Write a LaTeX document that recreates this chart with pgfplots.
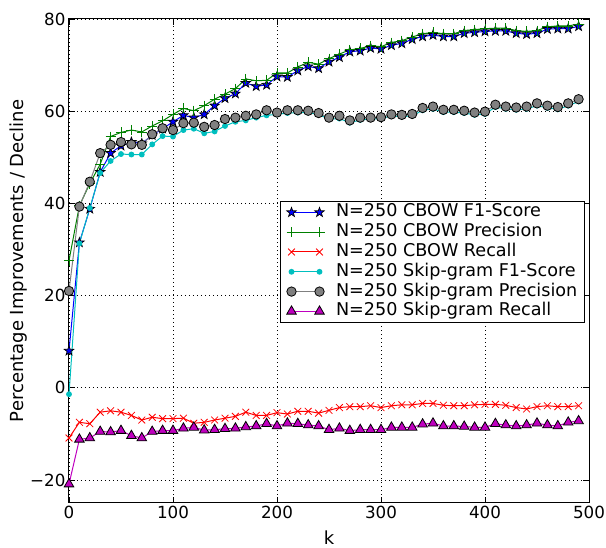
\documentclass[border=0pt]{standalone}
\usepackage{pgfplots}
\usepackage{pgfplotstable}
\pgfplotsset{compat=1.18}
\usepackage{fontspec}
\setmainfont{DejaVu Sans}
\definecolor{mplgreen}{rgb}{0,0.5,0}
\definecolor{mplcyan}{rgb}{0,0.75,0.75}
\definecolor{mplmag}{rgb}{0.75,0,0.75}
\definecolor{mplgray}{rgb}{0.5,0.5,0.5}
\pgfdeclareplotmark{fstar}{%
  \pgfpathmoveto{\pgfpointpolar{90}{\pgfplotmarksize}}%
  \pgfpathlineto{\pgfpointpolar{126}{0.4\pgfplotmarksize}}%
  \pgfpathlineto{\pgfpointpolar{162}{\pgfplotmarksize}}%
  \pgfpathlineto{\pgfpointpolar{198}{0.4\pgfplotmarksize}}%
  \pgfpathlineto{\pgfpointpolar{234}{\pgfplotmarksize}}%
  \pgfpathlineto{\pgfpointpolar{270}{0.4\pgfplotmarksize}}%
  \pgfpathlineto{\pgfpointpolar{306}{\pgfplotmarksize}}%
  \pgfpathlineto{\pgfpointpolar{342}{0.4\pgfplotmarksize}}%
  \pgfpathlineto{\pgfpointpolar{18}{\pgfplotmarksize}}%
  \pgfpathlineto{\pgfpointpolar{54}{0.4\pgfplotmarksize}}%
  \pgfpathclose\pgfusepathqfillstroke}
\pgfplotstableread{
x cbf cbp cbr sgf sgp sgr
0 8.0 27.6 -10.9 -1.4 21.0 -20.9
10 31.5 39.5 -7.5 31.3 39.3 -11.2
20 38.8 44.3 -7.8 39.0 44.7 -10.9
30 46.8 48.5 -5.3 46.6 50.9 -9.5
40 50.9 54.5 -5.0 49.2 52.7 -9.6
50 52.5 55.4 -5.3 50.7 53.3 -9.3
60 53.3 55.9 -6.0 50.6 52.8 -10.4
70 53.0 55.5 -7.0 50.6 52.7 -10.9
80 54.8 56.8 -6.4 52.8 55.0 -9.5
90 56.2 57.9 -6.7 54.6 56.3 -9.3
100 57.7 59.3 -6.7 54.5 55.9 -9.3
110 59.1 60.6 -6.6 55.9 57.4 -8.8
120 58.6 60.1 -7.7 56.2 57.5 -8.6
130 59.3 61.2 -7.5 55.2 56.6 -9.2
140 61.2 62.6 -7.0 55.6 57.0 -9.1
150 62.8 63.7 -6.6 56.8 58.3 -8.9
160 63.8 64.9 -6.2 57.7 58.6 -8.8
170 66.1 67.0 -5.3 58.0 59.0 -8.5
180 65.4 66.6 -6.0 58.6 59.3 -8.3
190 65.7 66.7 -6.0 59.1 60.2 -7.8
200 67.5 68.3 -5.4 59.3 59.7 -8.3
210 67.4 68.3 -5.7 59.6 60.2 -7.7
220 68.8 69.6 -5.1 59.7 60.2 -7.8
230 69.7 70.6 -5.1 59.7 60.1 -8.1
240 69.3 70.2 -5.5 59.3 59.6 -8.3
250 70.7 71.4 -4.9 58.3 58.6 -9.1
260 71.7 72.4 -4.3 58.4 59.0 -8.8
270 72.9 73.3 -4.1 57.5 58.0 -9.3
280 73.1 73.6 -4.1 58.1 58.6 -9.1
290 73.7 74.2 -3.9 58.3 58.6 -9.1
300 73.5 74.0 -4.3 58.4 58.7 -9.1
310 74.3 74.9 -3.9 59.0 59.3 -8.6
320 74.7 75.3 -3.7 58.8 59.2 -8.6
330 75.6 76.1 -3.7 59.0 59.4 -8.6
340 76.2 76.8 -3.4 60.2 60.7 -7.9
350 76.5 77.1 -3.4 60.5 61.0 -7.7
360 76.2 76.8 -3.8 59.8 60.3 -8.3
370 76.2 76.8 -3.9 59.8 60.3 -8.3
380 76.9 77.5 -3.9 59.6 60.1 -8.4
390 77.1 77.7 -3.7 59.2 59.7 -8.6
400 77.3 77.9 -3.6 59.4 59.9 -8.6
410 77.4 78.0 -3.6 60.9 61.4 -7.8
420 77.4 78.0 -3.8 60.5 61.0 -8.1
430 76.9 77.5 -4.3 60.3 60.8 -8.3
440 76.7 77.3 -4.6 60.5 61.0 -8.1
450 76.9 77.5 -4.1 61.2 61.7 -7.7
460 77.8 78.3 -3.9 60.7 61.2 -8.1
470 77.9 78.5 -4.1 60.4 60.9 -8.3
480 77.9 78.5 -4.1 61.2 61.7 -7.5
490 78.4 78.9 -3.9 62.1 62.6 -7.2
}\data
\begin{document}
\begin{tikzpicture}
\begin{axis}[
  scale only axis,
  width=520bp, height=484bp,
  xmin=0, xmax=500, ymin=-25, ymax=80,
  xtick={0,100,...,500},
  ytick={-20,0,20,40,60,80},
  yticklabels={−20,0,20,40,60,80},
  /pgf/number format/assume math mode=true,
  ticklabel style={font=\fontsize{16.7bp}{20bp}\selectfont},
  xlabel={k}, ylabel={Percentage Improvements / Decline},
  every axis x label/.style={at={(axis description cs:0.5,-0.071)}, anchor=center, font=\fontsize{18bp}{22bp}\selectfont},
  every axis y label/.style={at={(axis description cs:-0.098,0.5)}, anchor=center, rotate=90, font=\fontsize{18bp}{22bp}\selectfont},
  axis line style={line width=1bp},
  major tick length=6bp,
  tick style={line width=0.8bp, black},
  grid=major,
  major grid style={black, line width=0.6bp, dash pattern=on 1bp off 3bp},
  every axis plot/.append style={line width=1bp},
  legend cell align=left,
  legend image code/.code={\draw plot coordinates {(0bp,0bp) (28bp,0bp)}; \path (-6bp,0bp) (42bp,0bp);},
  legend style={at={(axis description cs:0.992,0.624)}, anchor=north east,
    draw=black, line width=1bp, inner xsep=5bp, inner ysep=1bp,
    font=\fontsize{17.6bp}{20bp}\selectfont,
    nodes={inner xsep=2bp, inner ysep=1.4bp, text height=13bp, text depth=4bp}},
]
\addplot[blue, mark=fstar, mark size=5bp, mark options={fill=blue, draw=black, line width=0.7bp}] table[x=x,y=cbf]{\data};
\addlegendentry{N=250 CBOW F1-Score}
\addplot[mplgreen, mark=+, mark size=5bp, mark options={line width=0.8bp}] table[x=x,y=cbp]{\data};
\addlegendentry{N=250 CBOW Precision}
\addplot[red, mark=x, mark size=4.8bp, mark options={line width=0.8bp}] table[x=x,y=cbr]{\data};
\addlegendentry{N=250 CBOW Recall}
\addplot[mplcyan, mark=*, mark size=2.4bp, mark options={fill=mplcyan, draw=mplcyan}] table[x=x,y=sgf]{\data};
\addlegendentry{N=250 Skip-gram F1-Score}
\addplot[mplgray, mark=*, mark size=4.7bp, mark options={fill=mplgray, draw=black, line width=0.8bp}] table[x=x,y=sgp]{\data};
\addlegendentry{N=250 Skip-gram Precision}
\addplot[mplmag, mark=triangle*, mark size=5.5bp, mark options={fill=mplmag, draw=black, line width=0.8bp}] table[x=x,y=sgr]{\data};
\addlegendentry{N=250 Skip-gram Recall}
\end{axis}
\pgfresetboundingbox
\path (-69bp,-45bp) rectangle (537bp,503bp);
\end{tikzpicture}
\end{document}
